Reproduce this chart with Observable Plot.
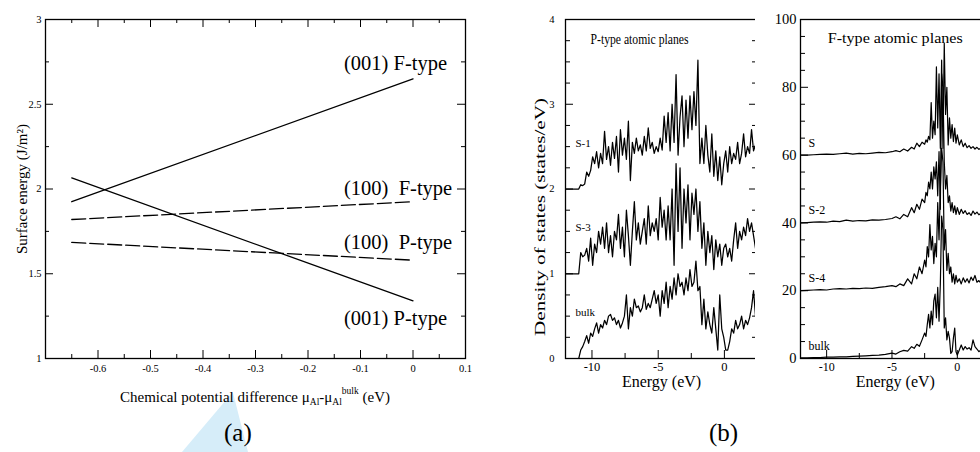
<!DOCTYPE html>
<html><head><meta charset="utf-8">
<script src="https://cdn.jsdelivr.net/npm/d3@7"></script>
<script src="https://cdn.jsdelivr.net/npm/@observablehq/plot@0.6"></script>
<style>
html,body{margin:0;padding:0;background:#fff;}
body{width:980px;height:452px;overflow:hidden;position:relative;font-family:"Liberation Serif",serif;color:#000;}
.panel{position:absolute;top:0;}
#pa{left:0;width:480px;} #pb1{left:520px;width:245px;} #pb2{left:755px;width:240px;}
#xlabA{position:absolute;left:45px;width:420px;top:389px;text-align:center;font-size:15px;white-space:nowrap;}
#xlabA sub{font-size:9.5px;vertical-align:-3px;line-height:0;}
#xlabA sup{font-size:9.5px;vertical-align:8px;line-height:0;}
.cap{position:absolute;top:419px;font-size:25px;}
#wm{position:absolute;left:182px;top:392px;width:66px;height:60px;background:#d6edf9;clip-path:polygon(0% 100%,77% 0%,100% 100%);}
</style></head>
<body>
<div id="wm"></div>
<div class="panel" id="pa"></div>
<div class="panel" id="pb1"></div>
<div class="panel" id="pb2"></div>
<div id="xlabA">Chemical potential difference μ<sub>Al</sub>-μ<sub>Al</sub><sup>bulk</sup> (eV)</div>
<div class="cap" style="left:224px">(a)</div>
<div class="cap" style="left:709px">(b)</div>
<script>
// ---------- Panel (a): surface energy vs chemical potential ----------
const muEnds = [-0.65, 0];
const gamma001F = [1.925, 2.65];
const gamma001P = [2.065, 1.34];
const gamma100F = [1.82, 1.925];
const gamma100P = [1.685, 1.58];
const surfaceNames = ["(001) F-type", "(100)  F-type", "(100)  P-type", "(001) P-type"];
const xTicksA = [-0.6, -0.5, -0.4, -0.3, -0.2, -0.1, 0, 0.1];
const xMinorA = [-0.65, -0.55, -0.45, -0.35, -0.25, -0.15, -0.05, 0.05];
const yTicksA = [1, 1.5, 2, 2.5, 3];
const yMinorA = [1.25, 1.75, 2.25, 2.75];

// ---------- Panel (b): DOS ----------
const energyGridStartP = -11, energyGridStepP = 0.15;
const dosP_S1 = [2.0,
 2.0,2.05,2.04,2.06,2.2,2.15,2.22,2.38,2.3,2.44,
 2.25,2.42,2.3,2.68,2.35,2.5,2.28,2.55,2.36,2.62,
 2.2,2.7,2.4,2.6,2.35,2.8,2.1,2.55,2.42,2.6,
 2.45,2.52,2.4,2.62,2.45,2.72,2.48,2.55,2.42,2.5,
 2.44,2.6,2.46,2.86,2.55,2.9,2.45,3.0,2.55,3.35,
 2.4,2.85,3.1,2.5,3.05,2.6,3.1,2.7,3.15,2.75,
 3.52,2.3,2.6,2.3,2.75,2.4,2.2,2.65,2.15,2.45,
 2.1,2.38,2.05,2.3,2.45,2.2,2.5,2.3,2.42,2.35,
 2.55,2.3,2.42,2.65,2.38,2.5,2.42,2.7,2.45,2.52,3.1];
const dosP_S3 = [1.0,
 1.0,1.25,1.2,1.22,1.3,1.15,1.42,1.1,1.35,1.25,
 1.5,1.35,1.55,1.3,1.6,1.25,1.45,1.2,1.5,1.4,
 1.7,1.3,1.55,1.2,1.75,1.45,1.1,1.5,1.85,1.4,
 1.6,1.35,1.5,1.65,1.35,1.8,1.45,1.6,1.5,1.65,
 1.4,1.9,1.55,1.75,1.4,1.8,1.4,2.0,1.1,2.3,
 1.5,2.25,1.3,2.0,1.6,2.05,1.4,1.95,1.7,2.0,
 1.5,1.85,1.3,1.6,1.1,1.5,1.25,1.45,1.05,1.4,
 1.2,1.35,1.1,1.3,1.35,1.2,1.3,1.15,1.4,1.6,
 1.3,1.5,1.4,1.55,1.45,1.65,1.5,1.6,1.45,1.3,2.3];
const dosP_bulk = [0.0,
 0.0,0.1,0.14,0.2,0.27,0.18,0.3,0.26,0.35,0.42,
 0.3,0.4,0.36,0.45,0.4,0.5,0.52,0.45,0.48,0.4,
 0.45,0.36,0.42,0.5,0.75,0.35,0.6,0.5,0.7,0.6,
 0.62,0.55,0.6,0.75,0.58,0.65,0.6,0.7,0.8,0.65,
 0.75,0.5,0.8,0.65,0.9,0.6,0.85,0.7,0.95,0.75,
 1.0,0.85,0.9,0.75,0.95,0.8,1.05,0.85,0.9,1.15,
 0.8,0.85,0.4,0.7,0.35,0.55,0.4,0.3,0.6,0.35,
 0.1,0.75,0.35,0.25,0.1,0.1,0.2,0.35,0.3,0.45,
 0.35,0.4,0.5,0.35,0.45,0.4,0.48,0.6,0.8,0.5,0.75];
const namesP = ["S-1", "S-3", "bulk"];
const offsetsP = [2, 1, 0];

const energyF = [-12,-11.5,-11,-10.5,-10,-9.5,-9,-8.5,-8,-7.5,-7,-6.5,-6,-5.5,-5,
 -4.7,-4.4,-4.1,-3.8,-3.5,
 -3.3,-3.1,-2.9,-2.7,-2.5,
 -2.4,-2.3,-2.2,-2.1,-2.0,-1.9,-1.8,-1.7,-1.6,-1.5,-1.4,-1.3,-1.2,-1.1,-1.0,-0.9,-0.8,-0.7,-0.6,-0.5,-0.4,-0.3,-0.2,-0.1,0,
 0.15,0.3,0.45,0.6,0.75,0.9,1.05,1.2,1.35,1.5,1.65,1.8,1.95,2.1,2.25,2.4];
const dosF_S = [60,60,60.1,60.2,60.3,60.2,60.4,60.6,60.3,60.5,60.4,60.6,60.8,60.7,61.0,
 61.3,61.0,61.8,61.2,62.3,
 61.8,63.5,62.5,63.8,63.2,
 64.5,63.8,65.5,64.5,75.5,65,70,66,86,68,84,62,88,62,93,72,80,63,71,65,69,64,68,63.5,66,
 63,64.5,62.5,63.5,62.2,62.8,62,62.5,61.8,62.3,61.7,62,61.8,62,61.7,61.9];
const dosF_S2 = [40,40.1,40.2,40.3,40.2,40.5,40.4,40.8,40.5,40.7,40.6,40.9,40.8,41.0,41.3,
 41.8,41.2,42.5,41.8,44.5,
 43,45.5,44,47,46,
 49,48,52,50,55,50,56.5,53,58,48,61,44,84,80,58,50,54,46,48,43.5,46,43,45,42.5,44.5,
 42.5,44,42.8,43.6,42.5,43,42.2,43.5,42.6,43.2,42.4,42.8,42.3,42.6,42.2,42.5];
const dosF_S4 = [20,20.1,20.2,20.3,20.2,20.5,20.6,20.5,20.7,20.6,20.8,20.7,21.0,21.2,21.5,
 21.2,22.0,21.5,23.5,22,
 25,23.5,27,25,29,
 27,33,30,39.5,32,36,28,34,30,46,35,50,62,58,32,38,26,31,25,27,22.5,25,22,24.5,22.5,
 23.5,22,23.8,22.5,23.5,22.3,24,23,24.5,22.5,23,22.2,22.6,22.2,22.5,22.3];
const dosF_bulk = [0.2,0.2,0.3,0.3,0.4,0.4,0.5,0.5,0.6,0.7,0.8,0.9,1.0,1.2,1.6,
 1.3,2.0,2.4,2.2,3.5,
 3.0,4.2,3.6,5.5,7.5,
 6.5,10,13,9,14,10,17,19,12,21,11,22,42,38,9,12,5.5,8,6,1.5,2.0,6,9,2,1.0,
 2.5,4.0,2.5,3.5,2.8,3.2,2.5,5.5,3.5,2.8,2.0,2.5,2.2,2.8,2.4,2.6];
const namesF = ["S", "S-2", "S-4", "bulk"];
const offsetsF = [60, 40, 20, 0];

const xTicksDOS = [-10, -5, 0];
const xMinorDOS = [-7.5, -2.5];
const yTicksP = [0, 1, 2, 3, 4];
const yMinorP = [0.25,0.5,0.75,1.25,1.5,1.75,2.25,2.5,2.75,3.25,3.5,3.75];
const yTicksF = [0, 20, 40, 60, 80, 100];
const yMinorF = [5,10,15,25,30,35,45,50,55,65,70,75,85,90,95];

// ---------- helpers ----------
const FONT = '"Liberation Serif", "Times New Roman", serif';
function boxTicks({xMaj=[], xMin=[], yMaj=[], yMin=[], fw, fh, big=8, small=4, top=false, right=true}) {
  const m = [];
  const sw = 1;
  m.push(Plot.tickX(xMaj, {x: d => d, insetTop: fh - big, stroke: "black", strokeWidth: sw}));
  m.push(Plot.tickX(xMin, {x: d => d, insetTop: fh - small, stroke: "black", strokeWidth: sw}));
  if (top) {
    m.push(Plot.tickX(xMaj, {x: d => d, insetBottom: fh - big, stroke: "black", strokeWidth: sw}));
    m.push(Plot.tickX(xMin, {x: d => d, insetBottom: fh - small, stroke: "black", strokeWidth: sw}));
  }
  m.push(Plot.tickY(yMaj, {y: d => d, insetRight: fw - big, stroke: "black", strokeWidth: sw}));
  m.push(Plot.tickY(yMin, {y: d => d, insetRight: fw - small, stroke: "black", strokeWidth: sw}));
  if (right) {
    m.push(Plot.tickY(yMaj, {y: d => d, insetLeft: fw - big, stroke: "black", strokeWidth: sw}));
    m.push(Plot.tickY(yMin, {y: d => d, insetLeft: fw - small, stroke: "black", strokeWidth: sw}));
  }
  return m;
}
function fitText(svg, content, len) {
  d3.select(svg).selectAll("text")
    .filter(function () { return this.textContent === content; })
    .attr("textLength", len).attr("lengthAdjust", "spacingAndGlyphs");
}
const baseStyle = {fontFamily: FONT, background: "white", color: "black", maxWidth: "none", overflow: "visible"};

// ---------- Panel (a) ----------
{
  const W = 480, H = 380, mL = 45, mR = 15, mT = 19, mB = 22;
  const fw = W - mL - mR, fh = H - mT - mB;
  const series = [
    {name: surfaceNames[0], vals: gamma001F, dash: null, dy: -15},
    {name: surfaceNames[1], vals: gamma100F, dash: "14,4", dy: -13},
    {name: surfaceNames[2], vals: gamma100P, dash: "14,4", dy: -18},
    {name: surfaceNames[3], vals: gamma001P, dash: null, dy: 18}
  ];
  const marks = [];
  for (const s of series) {
    const pts = muEnds.map((x, i) => ({x, y: s.vals[i]}));
    marks.push(Plot.line(pts, {x: "x", y: "y", stroke: "black", strokeWidth: 1.3, strokeDasharray: s.dash}));
    marks.push(Plot.text([pts[pts.length - 1]], {x: "x", y: "y", text: () => s.name, textAnchor: "start", dx: -69, dy: s.dy, fontSize: 20.5, fill: "black"}));
  }
  const plot = Plot.plot({
    width: W, height: H, marginLeft: mL, marginRight: mR, marginTop: mT, marginBottom: mB,
    style: baseStyle,
    x: {domain: [-0.7, 0.1]},
    y: {domain: [1, 3]},
    marks: [
      ...boxTicks({xMaj: xTicksA, xMin: xMinorA, yMaj: yTicksA, yMin: yMinorA, fw, fh, big: 8, small: 4, top: true, right: true}),
      Plot.axisX(xTicksA, {tickSize: 0, tickPadding: 6, fontSize: 10.5, label: null, tickFormat: d => String(d)}),
      Plot.axisY(yTicksA, {tickSize: 0, tickPadding: 4, fontSize: 10.5, label: null, tickFormat: d => String(d)}),
      Plot.text(["Surface energy (J/m²)"], {frameAnchor: "left", rotate: -90, textAnchor: "middle", dx: -23, fontSize: 15, fill: "black"}),
      ...marks,
      Plot.frame({stroke: "black", strokeWidth: 1.3})
    ]
  });
  document.getElementById("pa").append(plot);
}

// ---------- Panel (b) left: P-type ----------
{
  const W = 245, H = 400, mL = 45, mR = 8, mT = 19, mB = 42;
  const fw = W - mL - mR, fh = H - mT - mB;
  const energyP = [-12, ...dosP_S1.slice(1).map((_, i) => +(energyGridStartP + energyGridStepP * i).toFixed(2))];
  const arrs = [dosP_S1, dosP_S3, dosP_bulk];
  const table = [];
  arrs.forEach((a, k) => a.forEach((v, i) => table.push({name: namesP[k], E: energyP[i], v})));
  const plot = Plot.plot({
    width: W, height: H, marginLeft: mL, marginRight: mR, marginTop: mT, marginBottom: mB,
    style: baseStyle,
    x: {domain: [-12, 2.5]},
    y: {domain: [0, 4]},
    marks: [
      Plot.line(table, {x: "E", y: "v", z: "name", stroke: "black", strokeWidth: 1.25, clip: true}),
      ...boxTicks({xMaj: xTicksDOS, xMin: xMinorDOS, yMaj: yTicksP, yMin: yMinorP, fw, fh, big: 8, small: 5, top: false, right: true}),
      Plot.axisX(xTicksDOS, {tickSize: 0, tickPadding: 4, fontSize: 12.5, label: null, tickFormat: d => String(d)}),
      Plot.axisY(yTicksP, {tickSize: 0, tickPadding: 11, fontSize: 10.5, label: null, tickFormat: d => String(d)}),
      Plot.text(namesP, {y: (d, i) => offsetsP[i] + 0.5, frameAnchor: "left", dx: 10, textAnchor: "start", lineAnchor: "bottom", fontSize: 11, fill: "black"}),
      Plot.text(["P-type atomic planes"], {frameAnchor: "top", dx: -22, dy: 14, fontSize: 15, fill: "black"}),
      Plot.text(["Energy (eV)"], {frameAnchor: "bottom", dy: 28, fontSize: 16, fill: "black"}),
      Plot.text(["Density of states (states/eV)"], {frameAnchor: "left", rotate: -90, textAnchor: "middle", dx: -25, dy: 28, fontSize: 15.5, fill: "black"}),
      Plot.frame({stroke: "black", strokeWidth: 1.3})
    ]
  });
  fitText(plot, "Density of states (states/eV)", 238);
  fitText(plot, "P-type atomic planes", 98);
  document.getElementById("pb1").append(plot);
}

// ---------- Panel (b) right: F-type ----------
{
  const W = 240, H = 400, mL = 45, mR = 5.5, mT = 19, mB = 42;
  const fw = W - mL - mR, fh = H - mT - mB;
  const arrs = [dosF_S, dosF_S2, dosF_S4, dosF_bulk];
  const table = [];
  arrs.forEach((a, k) => a.forEach((v, i) => table.push({name: namesF[k], E: energyF[i], v})));
  const plot = Plot.plot({
    width: W, height: H, marginLeft: mL, marginRight: mR, marginTop: mT, marginBottom: mB,
    style: baseStyle,
    x: {domain: [-12, 2.5]},
    y: {domain: [0, 100]},
    marks: [
      Plot.line(table, {x: "E", y: "v", z: "name", stroke: "black", strokeWidth: 1.2, clip: true}),
      ...boxTicks({xMaj: xTicksDOS, xMin: xMinorDOS, yMaj: yTicksF, yMin: yMinorF, fw, fh, big: 8, small: 5, top: false, right: true}),
      Plot.axisX(xTicksDOS, {tickSize: 0, tickPadding: 4, fontSize: 12, label: null, tickFormat: d => String(d)}),
      Plot.axisY(yTicksF, {tickSize: 0, tickPadding: 4, fontSize: 14.5, label: null, tickFormat: d => String(d)}),
      Plot.text(namesF, {y: (d, i) => offsetsF[i] + 2.5, frameAnchor: "left", dx: 8, textAnchor: "start", lineAnchor: "bottom", fontSize: 12, fill: "black"}),
      Plot.text(["F-type atomic planes"], {frameAnchor: "top", dy: 14, fontSize: 14, fill: "black"}),
      Plot.text(["Energy (eV)"], {frameAnchor: "bottom", dy: 28, fontSize: 16, fill: "black"}),
      Plot.frame({stroke: "black", strokeWidth: 1.3})
    ]
  });
  fitText(plot, "F-type atomic planes", 135);
  document.getElementById("pb2").append(plot);
}
</script>
</body></html>
